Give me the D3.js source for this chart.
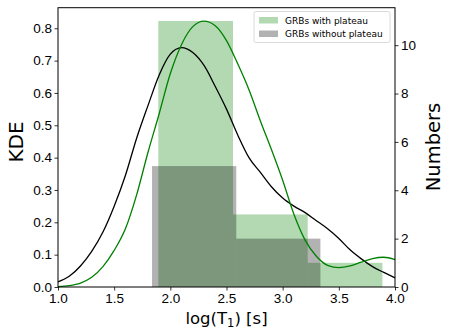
<!DOCTYPE html>
<html lang="en">
<head>
<meta charset="UTF-8" />
<title>KDE and histogram of log(T1)</title>
<script src="https://d3js.org/d3.v7.min.js"></script>
<style>
  body { margin: 0; background: #fff; }
  svg { font-family: "DejaVu Sans", sans-serif; }
  .tick text { font-size: 13.5px; fill: #000; }
  .tick line { stroke: #000; stroke-width: 0.8px; }
</style>
</head>
<body>
<svg width="449" height="336"></svg>
<script>
// KDE curves sampled on log(T1)
var kdeX = [1.0, 1.1, 1.2, 1.3, 1.4, 1.5, 1.6, 1.7, 1.8, 1.9, 2.0, 2.1, 2.2, 2.3, 2.4, 2.5,
            2.6, 2.7, 2.8, 2.9, 3.0, 3.1, 3.2, 3.3, 3.4, 3.5, 3.6, 3.7, 3.8, 3.9, 4.0];
var kdeWithout = [0.016, 0.033, 0.065, 0.11, 0.17, 0.25, 0.345, 0.46, 0.56, 0.655, 0.72, 0.74,
                  0.725, 0.685, 0.62, 0.55, 0.47, 0.40, 0.355, 0.31, 0.275, 0.25, 0.23, 0.205,
                  0.18, 0.15, 0.115, 0.087, 0.063, 0.045, 0.028];
var kdeWith = [0.001, 0.004, 0.012, 0.03, 0.063, 0.113, 0.18, 0.285, 0.415, 0.535, 0.66, 0.75,
               0.805, 0.822, 0.808, 0.762, 0.69, 0.61, 0.515, 0.425, 0.33, 0.225, 0.145, 0.095,
               0.067, 0.06, 0.065, 0.077, 0.088, 0.092, 0.085];

// histograms
var binsWith = [1.893, 2.558, 3.223, 3.888];
var countsWith = [11, 3, 1];
var binsWithout = [1.837, 2.587, 3.336];
var countsWithout = [5, 2];

var xTicks = [1.0, 1.5, 2.0, 2.5, 3.0, 3.5, 4.0];
var kdeTicks = [0, 0.1, 0.2, 0.3, 0.4, 0.5, 0.6, 0.7, 0.8];
var countTicks = [0, 2, 4, 6, 8, 10];
var legendLabels = ["GRBs with plateau", "GRBs without plateau"];

var svg = d3.select("svg");
var pLeft = 58, pRight = 395, pTop = 7.7, pBottom = 287;

var x = d3.scaleLinear().domain([1, 4]).range([pLeft, pRight]);
var yK = d3.scaleLinear().domain([0, 0.8636]).range([pBottom, pTop]);
var yN = d3.scaleLinear().domain([0, 11.55]).range([pBottom, pTop]);

function toBars(edges, counts) {
  return counts.map(function (c, i) {
    return { x0: edges[i], x1: edges[i + 1], n: c };
  });
}

svg.append("g")
  .selectAll("rect")
  .data(toBars(binsWith, countsWith))
  .enter()
  .append("rect")
  .attr("x", function (d) { return x(d.x0); })
  .attr("width", function (d) { return x(d.x1) - x(d.x0); })
  .attr("y", function (d) { return yN(d.n); })
  .attr("height", function (d) { return yN(0) - yN(d.n); })
  .attr("fill", "green")
  .attr("fill-opacity", 0.3);

svg.append("g")
  .selectAll("rect")
  .data(toBars(binsWithout, countsWithout))
  .enter()
  .append("rect")
  .attr("x", function (d) { return x(d.x0); })
  .attr("width", function (d) { return x(d.x1) - x(d.x0); })
  .attr("y", function (d) { return yN(d.n); })
  .attr("height", function (d) { return yN(0) - yN(d.n); })
  .attr("fill", "black")
  .attr("fill-opacity", 0.3);

var line = d3.line()
  .x(function (d, i) { return x(kdeX[i]); })
  .y(function (d) { return yK(d); })
  .curve(d3.curveMonotoneX);

svg.append("path")
  .attr("d", line(kdeWithout))
  .attr("fill", "none")
  .attr("stroke", "black")
  .attr("stroke-width", 1.3);

svg.append("path")
  .attr("d", line(kdeWith))
  .attr("fill", "none")
  .attr("stroke", "green")
  .attr("stroke-width", 1.3);

// axes
svg.append("g")
  .attr("transform", "translate(0," + pBottom + ")")
  .call(d3.axisBottom(x).tickValues(xTicks).tickFormat(d3.format(".1f")).tickSizeOuter(0).tickSize(3.5).tickPadding(2.5));
svg.append("g")
  .attr("transform", "translate(" + pLeft + ",0)")
  .call(d3.axisLeft(yK).tickValues(kdeTicks).tickFormat(d3.format(".1f")).tickSizeOuter(0).tickSize(3.5).tickPadding(2.5));
svg.append("g")
  .attr("transform", "translate(" + pRight + ",0)")
  .call(d3.axisRight(yN).tickValues(countTicks).tickFormat(d3.format("d")).tickSizeOuter(0).tickSize(3.5).tickPadding(2.5));
svg.selectAll(".domain").remove();
svg.selectAll(".tick text").attr("font-family", null).attr("font-size", null);

// frame
svg.append("rect")
  .attr("x", pLeft).attr("y", pTop)
  .attr("width", pRight - pLeft).attr("height", pBottom - pTop)
  .attr("fill", "none").attr("stroke", "black").attr("stroke-width", 1);

// labels
svg.append("text")
  .attr("transform", "translate(23,142) rotate(-90)")
  .attr("text-anchor", "middle")
  .attr("font-size", 20)
  .text("KDE");
svg.append("text")
  .attr("transform", "translate(440,147) rotate(-90)")
  .attr("text-anchor", "middle")
  .attr("font-size", 19.5)
  .text("Numbers");
var xl = svg.append("text")
  .attr("x", (pLeft + pRight) / 2)
  .attr("y", 324)
  .attr("text-anchor", "middle")
  .attr("font-size", 16.5);
xl.append("tspan").text("log(T");
xl.append("tspan").attr("font-size", 11.5).attr("dy", 3).text("1");
xl.append("tspan").attr("dy", -3).text(") [s]");

// legend
var lg = svg.append("g").attr("transform", "translate(254,11.5)");
lg.append("rect")
  .attr("width", 136).attr("height", 31).attr("rx", 2)
  .attr("fill", "white").attr("fill-opacity", 0.8)
  .attr("stroke", "#d0d0d0").attr("stroke-width", 0.8);
var items = lg.selectAll("g.item")
  .data(legendLabels)
  .enter()
  .append("g")
  .attr("class", "item")
  .attr("transform", function (d, i) { return "translate(5," + (5.5 + i * 13.5) + ")"; });
items.append("rect")
  .attr("width", 19).attr("height", 6.5)
  .attr("fill", function (d, i) { return i === 0 ? "green" : "black"; })
  .attr("fill-opacity", 0.3);
items.append("text")
  .attr("x", 26).attr("y", 6.8)
  .attr("font-size", 9)
  .text(function (d) { return d; });
</script>
</body>
</html>
